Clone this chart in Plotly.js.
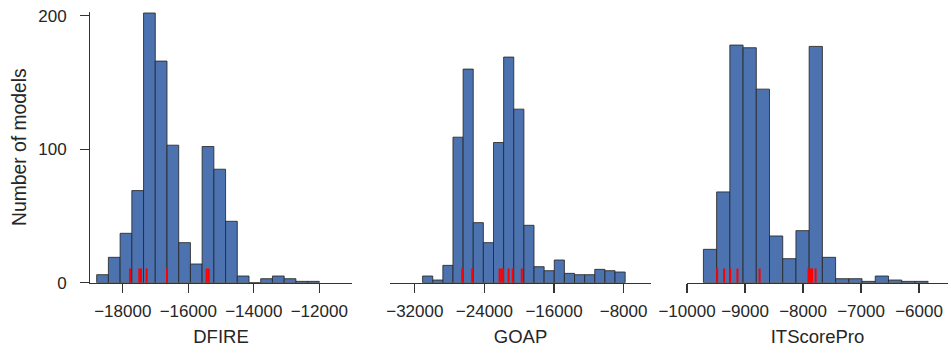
<!DOCTYPE html>
<html>
<head>
<meta charset="utf-8">
<script src="https://cdn.plot.ly/plotly-3.0.1.min.js"></script>
<style>html,body{margin:0;padding:0;background:#fff;}#chart{width:951px;height:354px;}</style>
</head>
<body>
<div id="chart"></div>
<script>
// ---- data ----
const dfireBinStart = -18796;
const dfireBinWidth = 357.8;
const dfireCounts = [6, 19, 37, 69, 202, 166, 103, 30, 14, 102, 85, 46, 5, 0, 3, 5, 3, 1, 1];
const dfireNatives = [-17779, -17494, -17443, -17270, -16649, -15438, -15377];

const goapBinStart = -31103;
const goapBinWidth = 1164.2;
const goapCounts = [5, 2, 13, 109, 160, 45, 30, 105, 169, 130, 43, 12, 9, 17, 7, 6, 6, 10, 9, 8];
const goapNatives = [-26550, -25400, -22250, -22040, -21850, -21220, -20740, -19700];

const itsBinStart = -9717;
const itsBinWidth = 227.9;
const itsCounts = [25, 68, 178, 176, 145, 35, 18, 39, 177, 19, 3, 3, 1, 5, 2, 1, 1];
const itsNatives = [-9480, -9360, -9255, -9130, -8748, -7905, -7870, -7845, -7783];

const panelTitles = ["DFIRE", "GOAP", "ITScorePro"];
const yTitle = "Number of models";
const yTickVals = [0, 100, 200];
const dfireTicks = [-18000, -16000, -14000, -12000];
const goapTicks = [-32000, -24000, -16000, -8000];
const itsTicks = [-10000, -9000, -8000, -7000, -6000];

// ---- drawing ----
const FONT = "Liberation Sans, Arial, sans-serif";
const TXT = "#262626";
const LINE = "#333333";
const BAR = "#4C72B0";
const RUG_H = 10.7;
const TICK_LEN = 9;

function fmt(v) { return v < 0 ? "\u2212" + Math.abs(v) : String(v); }

function histTrace(start, width, counts, ax) {
  const x = counts.map((_, i) => start + i * width);
  return {
    type: "bar", x: x, y: counts, width: counts.map(() => width), offset: 0,
    marker: { color: BAR, line: { color: "rgba(40,40,40,0.85)", width: 1 } },
    xaxis: "x" + ax, yaxis: "y" + ax, hoverinfo: "skip", showlegend: false
  };
}
function rugTrace(vals, ax) {
  const x = [], y = [];
  vals.forEach(v => { x.push(v, v, null); y.push(0, RUG_H, null); });
  return {
    type: "scatter", mode: "lines", x: x, y: y,
    line: { color: "#ff0000", width: 2 },
    xaxis: "x" + ax, yaxis: "y" + ax, hoverinfo: "skip", showlegend: false
  };
}

const traces = [
  histTrace(dfireBinStart, dfireBinWidth, dfireCounts, ""),
  rugTrace(dfireNatives, ""),
  histTrace(goapBinStart, goapBinWidth, goapCounts, "2"),
  rugTrace(goapNatives, "2"),
  histTrace(itsBinStart, itsBinWidth, itsCounts, "3"),
  rugTrace(itsNatives, "3")
];

const W = 951, H = 354;
const yDom = [(H - 282.7) / H, (H - 11.7) / H];

// visible tick marks are drawn as minor ticks; the (invisible) major ticks set the label distance
function visibleTicks(vals, span) {
  return {
    tickmode: "array", tickvals: vals.map(v => v + span * 1e-5),
    ticks: "outside", ticklen: TICK_LEN, tickwidth: 1.3, tickcolor: LINE, showgrid: false
  };
}

function xAxis(dom, range, ticks, title, anchor) {
  return {
    domain: [dom[0] / W, dom[1] / W], range: range, anchor: anchor,
    showline: true, linecolor: LINE, linewidth: 1.3,
    ticks: "outside", ticklen: TICK_LEN + 3.5, tickwidth: 1, tickcolor: "rgba(0,0,0,0)",
    minor: visibleTicks(ticks, range[1] - range[0]),
    tickvals: ticks, ticktext: ticks.map(fmt),
    tickfont: { family: FONT, size: 17, color: TXT },
    showgrid: false, zeroline: false, fixedrange: true,
    title: { text: title, standoff: 10, font: { family: FONT, size: 18.5, color: TXT } }
  };
}
function yHidden(anchor) {
  return { domain: yDom, range: [0, 203], anchor: anchor, visible: false, fixedrange: true };
}

const layout = {
  width: W, height: H,
  margin: { l: 0, r: 0, t: 0, b: 0 },
  paper_bgcolor: "#ffffff", plot_bgcolor: "rgba(0,0,0,0)",
  font: { family: FONT, color: TXT },
  showlegend: false,
  xaxis: xAxis([90, 352], [-19000, -11000], dfireTicks, panelTitles[0], "y"),
  xaxis2: xAxis([390, 651], [-34850, -4850], goapTicks, panelTitles[1], "y2"),
  xaxis3: xAxis([687, 948], [-10000, -5500], itsTicks, panelTitles[2], "y3"),
  yaxis: {
    domain: yDom, range: [0, 203], anchor: "x",
    showline: true, linecolor: LINE, linewidth: 1.3,
    ticks: "outside", ticklen: TICK_LEN + 9.6, tickwidth: 1, tickcolor: "rgba(0,0,0,0)",
    minor: visibleTicks(yTickVals, 203),
    tickvals: yTickVals, ticktext: yTickVals.map(String),
    tickfont: { family: FONT, size: 17, color: TXT },
    showgrid: false, zeroline: false, fixedrange: true,
    title: { text: yTitle, standoff: 6, font: { family: FONT, size: 19.3, color: TXT } }
  },
  yaxis2: yHidden("x2"),
  yaxis3: yHidden("x3")
};

Plotly.newPlot("chart", traces, layout, { displayModeBar: false, staticPlot: true });
</script>
</body>
</html>
